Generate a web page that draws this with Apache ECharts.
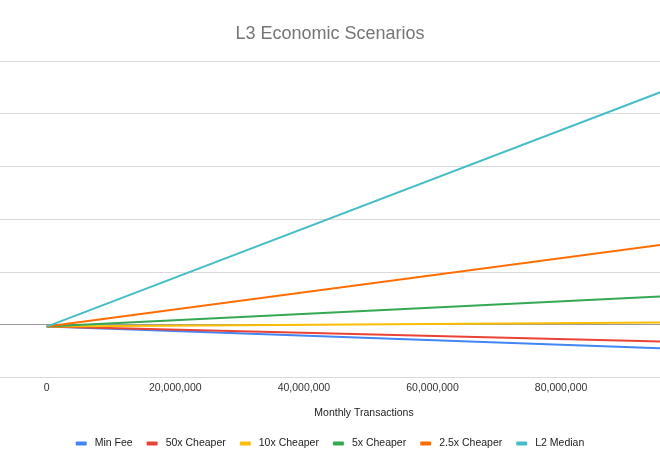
<!DOCTYPE html>
<html>
<head>
<meta charset="utf-8">
<script src="https://cdn.jsdelivr.net/npm/echarts@6/dist/echarts.min.js"></script>
<style>
html,body{margin:0;padding:0;background:#fff;}
#chart{width:660px;height:470px;}
</style>
</head>
<body>
<div id="chart"></div>
<script>
// Data (x in monthly transactions, y in arbitrary currency units)
const xValues = [0, 100000000];
const seriesNames = ['Min Fee', '50x Cheaper', '10x Cheaper', '5x Cheaper', '2.5x Cheaper', 'L2 Median'];
const minFee = [-380, -4670];
const cheaper50x = [-380, -3360];
const cheaper10x = [-380, 420];
const cheaper5x = [-380, 5590];
const cheaper2_5x = [-380, 15860];
const l2Median = [-380, 46210];
const xTicks = [0, 20000000, 40000000, 60000000, 80000000];
const colors = ['#4285F4', '#EA4335', '#FBBC04', '#34A853', '#FF6D01', '#46BDC6'];

const allValues = [minFee, cheaper50x, cheaper10x, cheaper5x, cheaper2_5x, l2Median];
const font = '"Liberation Sans", Arial, sans-serif';

const chart = echarts.init(document.getElementById('chart'), null, {renderer: 'canvas'});
chart.setOption({
  animation: false,
  color: colors,
  title: {
    text: 'L3 Economic Scenarios',
    left: 'center',
    top: 20,
    textStyle: {fontFamily: font, fontSize: 18, fontWeight: 'normal', color: '#757575'}
  },
  legend: {
    data: seriesNames,
    left: 'center',
    top: 433,
    icon: 'roundRect',
    itemWidth: 11,
    itemHeight: 4,
    itemGap: 14,
    textStyle: {fontFamily: font, fontSize: 10.5, color: '#222', padding: [0, 0, 0, 3]}
  },
  grid: {left: 0, right: 0, top: 61, bottom: 92.7, containLabel: false},
  xAxis: {
    type: 'value',
    min: -7263000,
    max: 95380000,
    axisLine: {show: false, onZero: false},
    axisTick: {show: false},
    splitLine: {show: false},
    axisLabel: {
      fontFamily: font, fontSize: 10.5, color: '#333', margin: 5,
      customValues: xTicks,
      formatter: function (v) { return v.toLocaleString('en-US'); }
    }
  },
  yAxis: {
    type: 'value',
    min: -10000,
    max: 50000,
    interval: 10000,
    axisLine: {show: false},
    axisTick: {show: false},
    axisLabel: {show: false},
    splitLine: {lineStyle: {color: ['#dadada', '#9a9a9a', '#dadada', '#dadada', '#dadada', '#dadada', '#dadada'], width: 1}}
  },
  graphic: [{
    type: 'text',
    x: 364, y: 413,
    style: {text: 'Monthly Transactions', font: '10.5px ' + font, fill: '#222', textAlign: 'center', textVerticalAlign: 'middle'}
  }],
  series: seriesNames.map(function (name, i) {
    return {
      name: name,
      type: 'line',
      symbol: 'none',
      lineStyle: {width: 2},
      data: xValues.map(function (x, j) { return [x, allValues[i][j]]; })
    };
  })
});
</script>
</body>
</html>
